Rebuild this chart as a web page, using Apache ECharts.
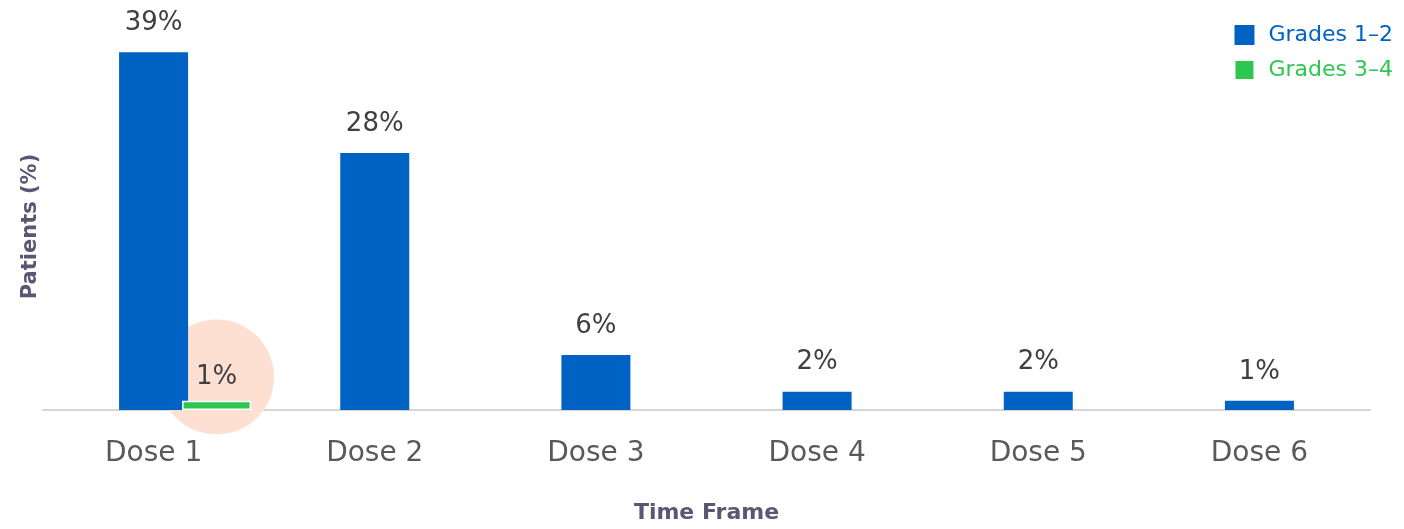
<!DOCTYPE html>
<html>
<head>
<meta charset="utf-8">
<script src="https://cdn.jsdelivr.net/npm/echarts@6/dist/echarts.min.js"></script>
<style>
  html, body { margin: 0; padding: 0; background: #ffffff; }
  #chart { width: 1404px; height: 529px; }
</style>
</head>
<body>
<div id="chart"></div>
<script>
// Share of patients with reactions at each dose, by severity grade
const categories = ['Dose 1', 'Dose 2', 'Dose 3', 'Dose 4', 'Dose 5', 'Dose 6'];
const grades12 = [39, 28, 6, 2, 2, 1];
const grades34 = [1, null, null, null, null, null];
// Highlight ring placed behind the Grades 3–4 value at Dose 1
const highlight = { category: 'Dose 1', value: 3.6 };

const FONT = '"DejaVu Sans", sans-serif';
const BLUE = '#0062c3';
const GREEN = '#2dc74f';
const LABEL = {
  show: true,
  position: 'top',
  formatter: '{c}%',
  fontSize: 26,
  color: '#404040',
  fontFamily: FONT
};

const chart = echarts.init(document.getElementById('chart'));
chart.setOption({
  animation: false,
  textStyle: { fontFamily: FONT },
  grid: { left: 43, right: 34, top: 43, bottom: 115 },
  legend: {
    orient: 'vertical',
    right: 6,
    top: 19,
    itemWidth: 20,
    itemHeight: 20,
    itemGap: 13,
    icon: 'rect',
    textStyle: { fontSize: 22, fontFamily: FONT, padding: [0, 0, 0, 9] },
    data: [
      { name: 'Grades 1–2', textStyle: { color: BLUE } },
      { name: 'Grades 3–4', textStyle: { color: GREEN } }
    ]
  },
  xAxis: {
    type: 'category',
    data: categories,
    name: 'Time Frame',
    nameLocation: 'middle',
    nameGap: 92,
    nameTextStyle: { fontSize: 22, fontWeight: 'bold', color: '#5a5775', fontFamily: FONT },
    axisLine: { lineStyle: { color: '#d6d6d6', width: 2 } },
    axisTick: { show: false },
    axisLabel: { fontSize: 28, color: '#595959', margin: 30, fontFamily: FONT }
  },
  yAxis: {
    type: 'value',
    min: 0,
    max: 40,
    name: 'Patients (%)',
    nameLocation: 'middle',
    nameGap: 2,
    nameTextStyle: { fontSize: 21, fontWeight: 'bold', color: '#5a5775', fontFamily: FONT },
    axisLine: { show: false },
    axisTick: { show: false },
    axisLabel: { show: false },
    splitLine: { show: false }
  },
  series: [
    {
      // empty slot that keeps Grades 1–2 centred on each category
      name: 'spacer',
      type: 'bar',
      barWidth: 69,
      barGap: '-8.7%',
      data: categories.map(() => null)
    },
    {
      name: 'Grades 1–2',
      type: 'bar',
      barWidth: 69,
      barGap: '-8.7%',
      z: 3,
      itemStyle: { color: BLUE },
      label: Object.assign({ distance: 16 }, LABEL),
      data: grades12
    },
    {
      name: 'Grades 3–4',
      type: 'bar',
      barWidth: 69,
      barGap: '-8.7%',
      z: 3,
      itemStyle: { color: GREEN, borderColor: '#ffffff', borderWidth: 1.5 },
      label: Object.assign({ distance: 11 }, LABEL),
      markPoint: {
        z: 1,
        symbol: 'circle',
        symbolSize: 115,
        silent: true,
        itemStyle: { color: '#fde0d2' },
        label: { show: false },
        data: [{ coord: [highlight.category, highlight.value] }]
      },
      data: grades34
    }
  ]
});
</script>
</body>
</html>
